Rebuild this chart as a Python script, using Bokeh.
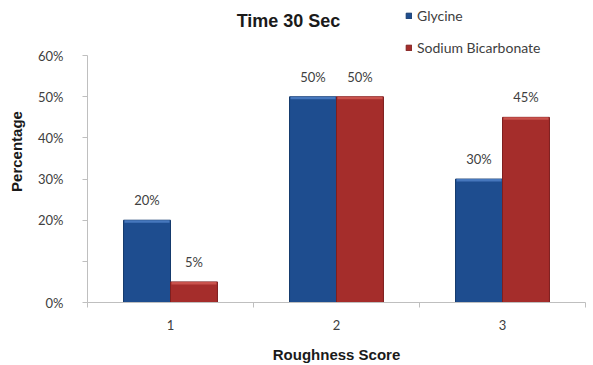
import math
from bokeh.plotting import figure
from bokeh.models import ColumnDataSource, FixedTicker, Label, Legend, LegendItem
from bokeh.core.properties import value
from bokeh.embed import file_html
from bokeh.resources import INLINE

# ---- data ----
categories = [1, 2, 3]
category_labels = ["1", "2", "3"]
glycine = [20, 50, 30]
sodium_bicarbonate = [5, 50, 45]
series_names = ["Glycine", "Sodium Bicarbonate"]
y_tick_values = [0, 10, 20, 30, 40, 50, 60]
y_tick_labels = ["0%", "", "20%", "30%", "40%", "50%", "60%"]
title_text = "Time 30 Sec"
x_title = "Roughness Score"
y_title = "Percentage"

BAR_W = 0.283
BLUE = "#1e4d8f"
BLUE_EDGE = "#153a6d"
BLUE_HI = "#4677bd"
RED = "#a52d2b"
RED_EDGE = "#7e1f1f"
RED_HI = "#c9524c"
HI_DEPTH = 0.6      # highlight band thickness (in axis units) at top of each bar
LABEL_FONT = "Lato"
BOLD_FONT = "Liberation Sans"
Y_AXIS_MAX = 60
Y_VIEW_TOP = 73.4   # extra room above the axis for the title and legend

p = figure(width=593, height=365, output_backend="svg", toolbar_location=None,
           x_range=(0.5, 3.5), y_range=(0, Y_VIEW_TOP),
           min_border_left=87, min_border_right=8, min_border_top=0, min_border_bottom=63)
p.outline_line_color = None
p.grid.visible = False
p.background_fill_color = "white"

gsrc = ColumnDataSource(dict(x=[c - BAR_W / 2 for c in categories], top=glycine,
                             hb=[v - HI_DEPTH for v in glycine],
                             lab=[f"{v}%" for v in glycine]))
rsrc = ColumnDataSource(dict(x=[c + BAR_W / 2 for c in categories], top=sodium_bicarbonate,
                             hb=[v - HI_DEPTH for v in sodium_bicarbonate],
                             lab=[f"{v}%" for v in sodium_bicarbonate]))

rg = p.vbar(x="x", top="top", bottom=0, width=BAR_W, source=gsrc,
            fill_color=BLUE, line_color=BLUE_EDGE, line_width=1)
rr = p.vbar(x="x", top="top", bottom=0, width=BAR_W, source=rsrc,
            fill_color=RED, line_color=RED_EDGE, line_width=1)
# bevel highlight on bar tops
p.vbar(x="x", top="top", bottom="hb", width=BAR_W * 0.96, source=gsrc,
       fill_color=BLUE_HI, line_color=None)
p.vbar(x="x", top="top", bottom="hb", width=BAR_W * 0.96, source=rsrc,
       fill_color=RED_HI, line_color=None)

for src in (gsrc, rsrc):
    p.text(x="x", y="top", text="lab", source=src, y_offset=-20,
           text_align="center", text_baseline="middle",
           text_font=value(LABEL_FONT), text_font_size="13px", text_color="#404040")

# x axis
xa = p.xaxis[0]
xa.ticker = FixedTicker(ticks=categories, minor_ticks=[0.5, 1.5, 2.5, 3.5])
xa.major_label_overrides = {c: l for c, l in zip(categories, category_labels)}
xa.major_tick_out = 0
xa.major_tick_in = 0
xa.minor_tick_out = 5
xa.minor_tick_in = 0
xa.minor_tick_line_color = "#bfbfbf"
xa.axis_line_color = "#bfbfbf"
xa.major_label_standoff = 12
xa.major_label_text_font = LABEL_FONT
xa.major_label_text_font_size = "13px"
xa.major_label_text_color = "#404040"
xa.axis_label = x_title
xa.axis_label_standoff = 13
xa.axis_label_text_font = BOLD_FONT
xa.axis_label_text_font_size = "15px"
xa.axis_label_text_font_style = "bold"
xa.axis_label_text_color = "#1a1a1a"

# y axis
ya = p.yaxis[0]
ya.ticker = FixedTicker(ticks=y_tick_values, minor_ticks=[])
ya.bounds = (0, Y_AXIS_MAX)
ya.major_label_overrides = {v: l for v, l in zip(y_tick_values, y_tick_labels)}
ya.major_tick_out = 5
ya.major_tick_in = 0
ya.major_tick_line_color = "#bfbfbf"
ya.minor_tick_line_color = None
ya.axis_line_color = "#bfbfbf"
ya.major_label_standoff = 19
ya.major_label_text_font = LABEL_FONT
ya.major_label_text_font_size = "13px"
ya.major_label_text_color = "#404040"
ya.axis_label = y_title
ya.axis_label_standoff = 10
ya.axis_label_text_font = BOLD_FONT
ya.axis_label_text_font_size = "15px"
ya.axis_label_text_font_style = "bold"
ya.axis_label_text_color = "#1a1a1a"

# chart title inside the (extended) frame
p.add_layout(Label(x=201, y=282, x_units="screen", y_units="screen", text=title_text,
                   text_align="center", text_baseline="middle", text_font=BOLD_FONT,
                   text_font_size="18px", text_font_style="bold", text_color="#1a1a1a"))

legend = Legend(items=[LegendItem(label=series_names[0], renderers=[rg]),
                       LegendItem(label=series_names[1], renderers=[rr])],
                location=(318, 246), orientation="vertical",
                glyph_width=7, glyph_height=7, label_standoff=5, spacing=15,
                padding=0, margin=0, border_line_color=None, background_fill_alpha=0,
                label_text_font=LABEL_FONT, label_text_font_size="14px",
                label_text_color="#404040")
p.add_layout(legend, "center")

open("out.html", "w").write(file_html(p, INLINE))
